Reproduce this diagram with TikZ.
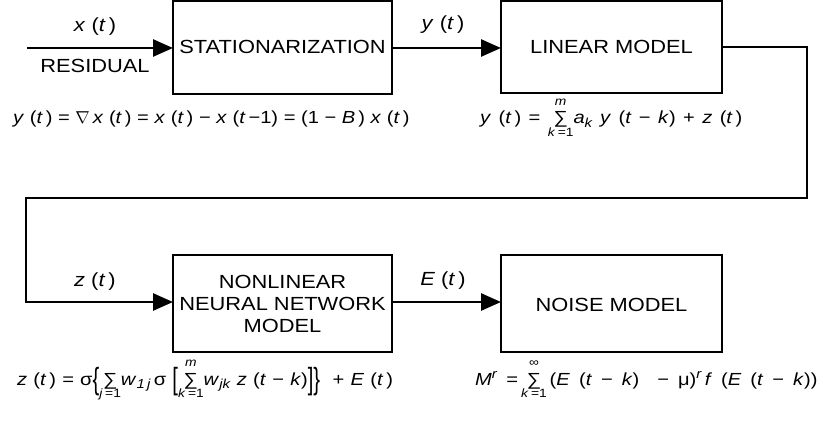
\documentclass[tikz,border=0pt]{standalone}
\usepackage{fontspec}
\usepackage{graphicx}
\setmainfont{Liberation Sans}[FakeStretch=1.15]
\usetikzlibrary{arrows.meta}

% summation sign with limits set below and above
\newcommand\limfont{\fontsize{12}{12}\selectfont\spaceskip=2.5pt}
\newcommand\limsum[2]{\ensuremath{\mathop{\mbox{\raisebox{0pt}[0.92em][0.12em]{∑}}}\limits_{\mbox{\limfont #1}}^{\mbox{\limfont #2}}}}
% italic sub- and superscripts
\newcommand\isub[1]{\ensuremath{_{\mbox{\fontsize{13}{13}\selectfont\itshape #1}}}}
\newcommand\isup[1]{\ensuremath{^{\mbox{\fontsize{13}{13}\selectfont\itshape #1}}}}
\newcommand\vt{(\textit{t}\,)}
% tall delimiters
\newcommand\tall[1]{\raisebox{-0.28em}{\scalebox{1}[1.75]{#1}}}

\begin{document}
\begin{tikzpicture}[x=1pt,y=-1pt,
  every node/.style={font=\fontsize{19}{22}\selectfont, inner sep=0pt},
  frame/.style={draw, line width=2.6pt},
  flow/.style={line width=2.6pt, -{Triangle[length=20pt,width=17pt]}},
  wire/.style={line width=2.6pt, line join=miter},
  eq/.style={anchor=base west, font={\fontsize{17.5}{22}\selectfont\spaceskip=#1}},
  eq/.default=5.6pt]
\useasboundingbox (0,0) rectangle (825,425);

% blocks
\draw[frame] (173,0.8) rectangle (392,94);
\node (stat) at (282.5,47.4) {STATIONARIZATION};
\coordinate (statW) at (173,48);
\coordinate (statE) at (392,48);

\draw[frame] (501,0.8) rectangle (722,93);
\node (lin) at (611.5,47) {LINEAR MODEL};
\coordinate (linW) at (501,48);
\coordinate (linE) at (722,47);

\draw[frame] (173,255) rectangle (392,352);
\node[align=center] (nn) at (282.5,304) {NONLINEAR\\NEURAL NETWORK\\MODEL};
\coordinate (nnW) at (173,302);
\coordinate (nnE) at (392,302);

\draw[frame] (501,255) rectangle (722,352);
\node (noise) at (611.5,305) {NOISE MODEL};
\coordinate (noiseW) at (501,302);

% connectors
\coordinate (in) at (27,48);
\draw[flow] (in) -- (statW);
\draw[flow] (statE) -- (linW);
\coordinate (r1) at (807,47);
\coordinate (r2) at (807,198);
\coordinate (r3) at (26,198);
\coordinate (r4) at (26,302);
\draw[wire] (linE) -- (r1) -- (r2) -- (r3) -- (r4) -- ([xshift=-19pt]nnW);
\draw[flow] (r4) -- (nnW);
\draw[flow] (nnE) -- (noiseW);

% signal labels
\node (xt) at (95,27) {\textit{x} \vt};
\node (res) at (95,66) {RESIDUAL};
\node (yt) at (443,25) {\textit{y} \vt};
\node (zt) at (95,282) {\textit{z} \vt};
\node (et) at (443,281) {\textit{E} \vt};

% equations
\node[eq] (eq1) at (13,124) {\textit{y} \vt{} = $\nabla$\,\textit{x} \vt{} = \textit{x} \vt{} − \textit{x} (\textit{t}\,−1) = (1 − \textit{B}\,) \textit{x} \vt};
\node[eq=7.4pt] (eq2) at (480,124) {\textit{y} \vt{} = \limsum{\textit{k} =1}{\textit{m}}\textit{a}\isub{k} \textit{y} (\textit{t} − \textit{k}) + \textit{z} \vt};
\node[eq=6.2pt] (eq3) at (17,385) {\textit{z} \vt{} = σ\tall{\{}\limsum{\textit{j} =1}{}\textit{w}\isub{1\,j}\,σ \tall{[}\limsum{\textit{k} =1}{\textit{m}}\textit{w}\isub{jk} \textit{z} (\textit{t} − \textit{k})\tall{]}\tall{\}}~ + \textit{E} \vt};
\node[eq=9pt] (eq4) at (475,385) {\textit{M}\isup{r} =\,\limsum{\textit{k} =1}{∞}\,(\textit{E} (\textit{t} − \textit{k})~ − μ)\isup{r}\,\textit{f} (\textit{E} (\textit{t} − \textit{k}))};
\end{tikzpicture}
\end{document}
